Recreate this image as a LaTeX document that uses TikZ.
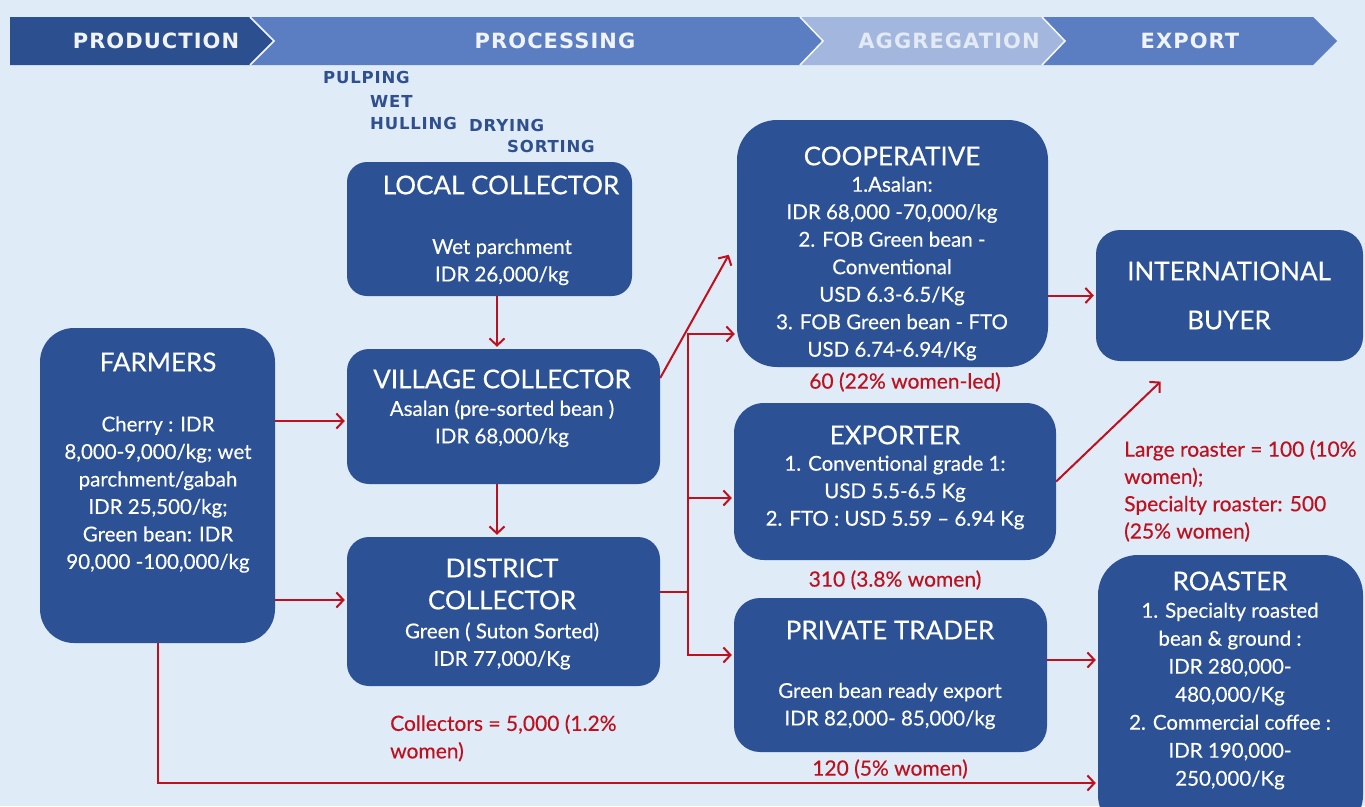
\documentclass[tikz,border=0pt]{standalone}
\usepackage{fontspec}
\setmainfont{Lato}
\newfontfamily\bodyfont{Lato}[FakeBold=0.35,Ligatures=TeX]
\newfontfamily\bannerfont{DejaVu Sans}[LetterSpace=5]
\usetikzlibrary{arrows.meta,calc}
\definecolor{bg}{RGB}{223,235,246}
\definecolor{boxblue}{RGB}{44,82,149}
\definecolor{prodblue}{RGB}{44,80,143}
\definecolor{procblue}{RGB}{91,125,194}
\definecolor{aggblue}{RGB}{163,182,221}
\definecolor{redc}{RGB}{190,16,30}
\definecolor{stepblue}{RGB}{47,79,142}
\definecolor{bantext}{RGB}{240,244,250}
\definecolor{aggtext}{RGB}{226,234,246}
\begin{document}
\begin{tikzpicture}[x=1pt,y=-1pt,
  box/.style={fill=boxblue, draw=none, inner sep=0pt, rounded corners=#1},
  ttl/.style={text=white, font=\bodyfont\fontsize{26}{30}\selectfont, inner sep=0pt, align=center},
  bd/.style={text=white, font=\bodyfont\fontsize{20.5}{27.5}\selectfont, align=center, inner sep=0pt},
  lbl/.style={text=redc, font=\bodyfont\fontsize{21}{27.5}\selectfont, inner sep=0pt},
  stp/.style={text=stepblue, font=\bannerfont\bfseries\fontsize{16.5}{18}\selectfont, inner sep=0pt, anchor=west},
  ban/.style={text=bantext, font=\bannerfont\bfseries\fontsize{21}{24}\selectfont, inner sep=0pt},
  arr/.style={draw=redc, line width=2pt, line join=miter, -{Straight Barb[length=7pt,width=15pt,line width=2pt]}, shorten >=2pt},
  redline/.style={draw=redc, line width=2pt}]
\useasboundingbox (0,0) rectangle (1365,806);
\fill[bg] (0,0) rectangle (1365,806);
\clip (0,0) rectangle (1365,806);

% banner
\fill[prodblue] (10,17) -- (250,17) -- (274,41) -- (250,65) -- (10,65) -- cycle;
\fill[procblue] (250,17) -- (800,17) -- (823,41) -- (800,65) -- (250,65) -- (274,41) -- cycle;
\fill[aggblue] (800,17) -- (1042,17) -- (1065,41) -- (1042,65) -- (800,65) -- (823,41) -- cycle;
\fill[procblue] (1042,17) -- (1313,17) -- (1337,41) -- (1313,65) -- (1042,65) -- (1065,41) -- cycle;
\draw[white!70!bg, line width=1.5pt] (250,17) -- (274,41) -- (250,65);
\draw[white!70!bg, line width=1.5pt] (800,17) -- (823,41) -- (800,65);
\draw[white!70!bg, line width=1.5pt] (1042,17) -- (1065,41) -- (1042,65);
\node[ban] (bprod) at (156,41) {PRODUCTION};
\node[ban] (bproc) at (555,41) {PROCESSING};
\node[ban, text=aggtext] (bagg) at (949,41) {AGGREGATION};
\node[ban] (bexp) at (1190,41) {EXPORT};

% processing steps
\node[stp] (s1) at (323,77) {PULPING};
\node[stp] (s2) at (370,101) {WET};
\node[stp] (s3) at (370,123) {HULLING};
\node[stp] (s4) at (469,125) {DRYING};
\node[stp] (s5) at (507,146) {SORTING};

% boxes
\node[box=34pt, minimum width=235pt, minimum height=315pt] (farmers) at (157.5,485.5) {};
\node[box=20pt, minimum width=285pt, minimum height=134pt] (local) at (489.5,229) {};
\node[box=22pt, minimum width=313pt, minimum height=135pt] (village) at (503.5,416.5) {};
\node[box=22pt, minimum width=313pt, minimum height=149pt] (district) at (503.5,611.5) {};
\node[box=40pt, minimum width=311pt, minimum height=247pt] (coop) at (892.5,243.5) {};
\node[box=30pt, minimum width=322pt, minimum height=157pt] (exporter) at (895,481.5) {};
\node[box=26pt, minimum width=313pt, minimum height=154pt] (trader) at (890.5,675) {};
\node[box=24pt, minimum width=267pt, minimum height=131pt] (buyer) at (1229.5,295.5) {};
\node[box=40pt, minimum width=265pt, minimum height=280pt] (roaster) at (1230.5,695) {};

% box texts
\node[ttl] (tfarm) at (158,362) {FARMERS};
\node[bd] (bfarm) at (158,494.5) {Cherry : IDR\\8,000-9,000/kg; wet\\parchment/gabah\\IDR 25,500/kg;\\Green bean: IDR\\90,000 -100,000/kg};
\node[ttl] (tlocal) at (501,185) {LOCAL COLLECTOR};
\node[bd] (blocal) at (502,262) {Wet parchment\\IDR 26,000/kg};
\node[ttl] (tvil) at (502,379) {VILLAGE COLLECTOR};
\node[bd] (bvil) at (502,423.5) {Asalan (pre-sorted bean )\\IDR 68,000/kg};
\node[ttl, font=\bodyfont\fontsize{26}{32}\selectfont] (tdis) at (502,584) {DISTRICT\\COLLECTOR};
\node[bd] (bdis) at (502,646) {Green ( Suton Sorted)\\IDR 77,000/Kg};
\node[ttl] (tcoop) at (892,156) {COOPERATIVE};
\node[bd] (bcoop) at (892,268.5) {1.Asalan:\\IDR 68,000 -70,000/kg\\2. FOB Green bean -\\Conventional\\USD 6.3-6.5/Kg\\3. FOB Green bean - FTO\\USD 6.74-6.94/Kg};
\node[ttl] (texp) at (895,435) {EXPORTER};
\node[bd] (bexp2) at (895,492.5) {1. Conventional grade 1:\\USD 5.5-6.5 Kg\\2. FTO : USD 5.59 – 6.94 Kg};
\node[ttl] (ttrad) at (890,630) {PRIVATE TRADER};
\node[bd] (btrad) at (890,706) {Green bean ready export\\IDR 82,000- 85,000/kg};
\node[ttl, font=\bodyfont\fontsize{26}{49}\selectfont] (tbuy) at (1229,295.5) {INTERNATIONAL\\BUYER};
\node[ttl] (troast) at (1230,581) {ROASTER};
\node[bd, font=\bodyfont\fontsize{20.5}{28}\selectfont] (broast) at (1230,696) {1. Specialty roasted\\bean \& ground :\\IDR 280,000-\\480,000/Kg\\2. Commercial coffee :\\IDR 190,000-\\250,000/Kg};

% red labels
\node[lbl] (lcoop) at (905,382) {60 (22\% women-led)};
\node[lbl] (lexp) at (895,580) {310 (3.8\% women)};
\node[lbl] (ltrad) at (890,769) {120 (5\% women)};
\node[lbl, anchor=west, align=left] (lcoll) at (390,738) {Collectors = 5,000 (1.2\%\\women)};
\node[lbl, anchor=west, align=left, font=\bodyfont\fontsize{21}{27.3}\selectfont] (lroast) at (1124,491) {Large roaster = 100 (10\%\\women);\\Specialty roaster: 500\\(25\% women)};

% connectors
\coordinate (lv) at ([xshift=7.5pt]local.south);
\draw[arr] (lv) -- (lv |- village.north);
\coordinate (vd) at ([xshift=-6.5pt]village.south);
\draw[arr] (vd) -- (vd |- district.north);
\coordinate (fv) at ([yshift=-4.5pt]village.west);
\draw[arr] (fv -| farmers.east) -- (fv);
\coordinate (fd) at ([yshift=11.5pt]district.west);
\draw[arr] (fd -| farmers.east) -- (fd);
\coordinate (fr) at ([yshift=-88pt]roaster.west);
\draw[arr] (farmers.south) |- (fr);
\draw[arr] ([yshift=38.5pt]village.east) -- ([yshift=-9.5pt,xshift=-7pt]coop.west);
\coordinate (dj) at ([yshift=19.5pt]district.east);
\coordinate (bx) at ([xshift=28pt]dj);
\coordinate (cb) at ([yshift=-90.5pt]coop.west);
\coordinate (eb) at ([yshift=-16.5pt]exporter.west);
\coordinate (tb) at ([yshift=20pt]trader.west);
\draw[arr] (dj) -| (bx |- cb) -- (cb);
\draw[arr] (bx) |- (eb);
\draw[arr] (bx) |- (tb);
\draw[arr] (buyer.west -| coop.east) -- (buyer.west);
\draw[arr] (exporter.east) -- ([xshift=-67.5pt,yshift=-19pt]buyer.south);
\coordinate (tr) at ([yshift=15pt]trader.east);
\draw[arr] (tr) -- (tr -| roaster.west);
\end{tikzpicture}
\end{document}
